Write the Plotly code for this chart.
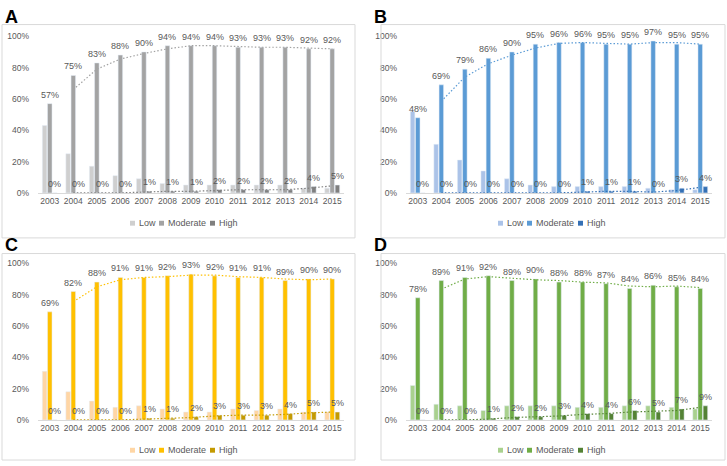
import plotly.graph_objects as go

years = ["2003", "2004", "2005", "2006", "2007", "2008", "2009", "2010", "2011", "2012", "2013", "2014", "2015"]
series_names = ["Low", "Moderate", "High"]
panel_letters = ["A", "B", "C", "D"]
y_ticks = [0, 20, 40, 60, 80, 100]
y_tick_labels = ["0%", "20%", "40%", "60%", "80%", "100%"]

a_low = [43, 25, 17, 11, 9, 6, 5, 5, 5, 5, 5, 3, 3]
a_moderate = [57, 75, 83, 88, 90, 94, 94, 94, 93, 93, 93, 92, 92]
a_high = [0, 0, 0, 0, 1, 1, 1, 2, 2, 2, 2, 4, 5]

b_low = [52, 31, 21, 14, 9, 5, 4, 4, 4, 4, 3, 2, 2]
b_moderate = [48, 69, 79, 86, 90, 95, 96, 96, 95, 95, 97, 95, 95]
b_high = [0, 0, 0, 0, 0, 0, 0, 1, 1, 1, 0, 3, 4]

c_low = [31, 18, 12, 8, 9, 7, 5, 5, 7, 6, 7, 5, 5]
c_moderate = [69, 82, 88, 91, 91, 92, 93, 92, 91, 91, 89, 90, 90]
c_high = [0, 0, 0, 0, 1, 1, 2, 3, 3, 3, 4, 5, 5]

d_low = [22, 10, 9, 6, 9, 9, 9, 8, 8, 9, 9, 8, 7]
d_moderate = [78, 89, 91, 92, 89, 90, 88, 88, 87, 84, 86, 85, 84]
d_high = [0, 0, 0, 1, 2, 2, 3, 4, 4, 6, 5, 7, 9]

panels = [
    (a_low, a_moderate, a_high, ["#CFCFCF", "#A3A3A3", "#7F7F7F"]),
    (b_low, b_moderate, b_high, ["#ABC3E8", "#5B9BD5", "#3470B5"]),
    (c_low, c_moderate, c_high, ["#FFD6A5", "#FFC000", "#C49A00"]),
    (d_low, d_moderate, d_high, ["#A9D18E", "#70AD47", "#548235"]),
]

W, H = 727, 466
def px(x):
    return x / W
def py(y):
    return 1 - y / H

# plot area pixel boxes: (left, right, top(100%), bottom(0%))
plot_boxes = [(38, 344, 32, 192), (406, 712, 32, 192), (38, 344, 264, 424), (406, 712, 264, 424)]
frame_boxes = [(2, 355, 20, 238), (381, 725, 20, 238), (2, 355, 254, 465), (381, 725, 254, 465)]
letter_pos = [(3, 12), (372, 12), (3, 245), (372, 245)]
legend_y = [223, 455]
legend_offsets = [-61, -32, 19]  # square left edge relative to plot centre
BARGAP, GROUPGAP = 0.34, 0.13

TXT = "#595959"
FONT = "Liberation Sans"

def moving_avg(v):
    return [None] + [(v[i - 1] + v[i]) / 2 for i in range(1, len(v))]

fig = go.Figure()
layout = {}
shapes = []
annotations = []

for k, (low, mod, high, cols) in enumerate(panels):
    sfx = "" if k == 0 else str(k + 1)
    xa, ya = "x" + sfx, "y" + sfx
    l, r, t, b = plot_boxes[k]
    slot_px = (r - l) / len(years) * (1 - BARGAP) / 3
    for si, (name, vals, col) in enumerate(zip(series_names, [low, mod, high], cols)):
        fig.add_trace(go.Bar(
            x=years, y=vals, name=name, marker_color=col, xaxis=xa, yaxis=ya,
            showlegend=False, hoverinfo="skip",
        ))
        if name != "Low":
            for i, v in enumerate(vals):
                annotations.append(dict(
                    text=f"{v}%", xref=xa, yref=ya, x=i, y=v, xshift=(si - 1) * slot_px,
                    yshift=9, xanchor="center", yanchor="middle", showarrow=False,
                    font=dict(size=9, color=TXT, family=FONT)))
    for vals, col in [(mod, cols[1]), (high, cols[2])]:
        fig.add_trace(go.Scatter(
            x=years, y=moving_avg(vals), mode="lines", xaxis=xa, yaxis=ya,
            line=dict(color=col, width=1.2, dash="1.5px,2px"), showlegend=False,
            hoverinfo="skip", cliponaxis=False,
        ))
    layout["xaxis" + sfx] = dict(
        domain=[px(l), px(r)], anchor=ya, type="category", categoryorder="array",
        categoryarray=years, range=[-0.5, len(years) - 0.5], showgrid=False,
        showline=True, linecolor="#D9D9D9", linewidth=1, ticks="",
        tickfont=dict(size=8.5, color=TXT, family=FONT), zeroline=False, fixedrange=True,
    )
    layout["yaxis" + sfx] = dict(
        domain=[py(b), py(t)], anchor=xa, range=[0, 100], showgrid=False,
        showline=False, zeroline=False, tickmode="array", tickvals=y_ticks,
        ticktext=y_tick_labels, tickfont=dict(size=8.5, color=TXT, family=FONT), ticks="",
        ticklabelstandoff=8, fixedrange=True,
    )
    # legend (small squares + labels), centred under the plot
    cx = (l + r) / 2
    ly_pix = legend_y[k // 2]
    for name, col, off in zip(series_names, cols, legend_offsets):
        x0 = cx + off
        shapes.append(dict(type="rect", xref="paper", yref="paper",
                           x0=px(x0), x1=px(x0 + 5), y0=py(ly_pix + 2.5), y1=py(ly_pix - 2.5),
                           line=dict(width=0), fillcolor=col))
        annotations.append(dict(text=name, xref="paper", yref="paper", x=px(x0 + 6.5),
                                y=py(ly_pix), xanchor="left", yanchor="middle", showarrow=False,
                                font=dict(size=9, color=TXT, family=FONT)))
    fl, fr, ft, fb = frame_boxes[k]
    shapes.append(dict(type="rect", xref="paper", yref="paper", x0=px(fl), x1=px(fr),
                       y0=py(fb), y1=py(ft), line=dict(color="#D9D9D9", width=1)))
    lx, lyy = letter_pos[k]
    annotations.append(dict(text=f"<b>{panel_letters[k]}</b>", xref="paper", yref="paper",
                            x=px(lx), y=py(lyy), xanchor="left", yanchor="middle",
                            showarrow=False, font=dict(size=18, color="#000000", family="Liberation Sans")))

fig.update_layout(
    width=W, height=H, margin=dict(l=0, r=0, t=0, b=0),
    paper_bgcolor="white", plot_bgcolor="white", showlegend=False,
    barmode="group", bargap=BARGAP, bargroupgap=GROUPGAP,
    shapes=shapes, annotations=annotations,
    **layout,
)

fig.write_html("out.html")
